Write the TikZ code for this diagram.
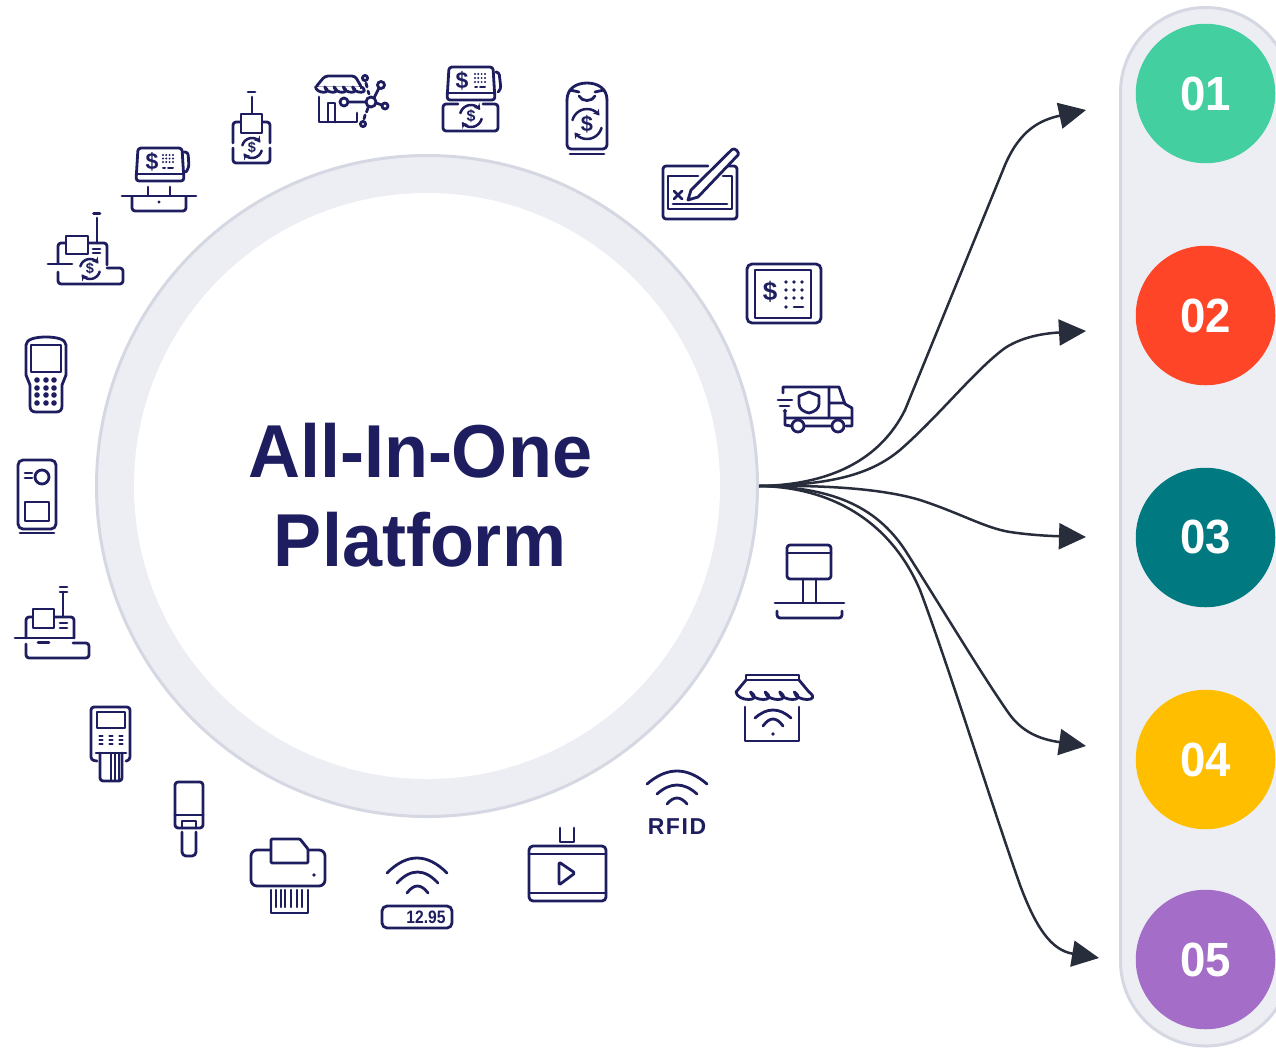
\documentclass[tikz,border=0pt]{standalone}
\usepackage{fontspec}
\usepackage{graphicx}
\setmainfont{Liberation Sans}
\usetikzlibrary{arrows.meta}
\definecolor{iconc}{HTML}{1D1D5F}
\definecolor{ringfill}{HTML}{EDEEF3}
\definecolor{ringline}{HTML}{D5D7E2}
\definecolor{flowc}{HTML}{282D3C}
\definecolor{cA}{HTML}{43CFA0}
\definecolor{cB}{HTML}{FF4527}
\definecolor{cC}{HTML}{007A80}
\definecolor{cD}{HTML}{FFBE00}
\definecolor{cE}{HTML}{A36DC8}
\tikzset{
  ic/.style={draw=iconc,line width=2.8pt,line cap=round,line join=round},
  icr/.style={ic,rounded corners=3pt},
  dotf/.style={fill=iconc,draw=none},
  numdisc/.style={circle,minimum size=139.5pt,inner sep=0pt,outer sep=0pt,text=white,font=\fontsize{48}{50}\selectfont\bfseries},
  flow/.style={draw=flowc,line width=2.5pt,-{Triangle[length=27pt,width=26pt]}},
  titlet/.style={text=iconc,inner sep=0pt,font=\fontsize{75}{80}\selectfont\bfseries},
  dollar/.style={text=iconc,inner sep=0pt,font=\bfseries}
}
% dollar inside two chasing arcs
\newcommand\cyc[4]{%
  \draw[ic,line width=2.5pt,-{Stealth[length=5.5pt,width=7.5pt]}] plot[domain=195:325,samples=14,smooth] ({#2+#4*cos(\x)},{#3+#4*sin(\x)});
  \draw[ic,line width=2.5pt,-{Stealth[length=5.5pt,width=7.5pt]}] plot[domain=15:145,samples=14,smooth] ({#2+#4*cos(\x)},{#3+#4*sin(\x)});
  \pgfmathsetmacro\fsz{#4*1.45}%
  \node[dollar,font=\fontsize{\fsz}{\fsz}\selectfont\bfseries] (#1) at (#2,#3) {\$};}
% dot grid
\newcommand\dotgrid[3]{%
  \foreach \gx in {#1} \foreach \gy in {#2} \fill[dotf] (\gx,\gy) circle[radius=#3];}
% wifi-like arc: x1,x2,y at the ends,y at the apex
\newcommand\wf[4]{%
  \draw[ic] (#1,#3) .. controls ({#1+(#2-#1)/3},{#3-4/3*(#3-#4)}) and ({#2-(#2-#1)/3},{#3-4/3*(#3-#4)}) .. (#2,#3);}
% awning scallops: x0,y,step,count,depth
\newcommand\scal[5]{%
  \foreach \si in {1,...,#4} {%
    \pgfmathsetmacro\sx{#1+(\si-1)*#3}%
    \draw[ic] (\sx,#2) .. controls +(1,#5) and +(#3-1,#5) .. +(#3,0);}}
\begin{document}
\begin{tikzpicture}[x=1pt,y=-1pt]
\useasboundingbox (0,0) rectangle (1276,1047);
\fill[white] (0,0) rectangle (1276,1047);
\begin{scope}
\clip (0,0) rectangle (1276,1047);
% side rail
\draw[fill=ringfill,draw=ringline,line width=3pt,rounded corners=85pt] (1120.5,7.5) rectangle (1291,1046);
\end{scope}
% hub ring
\node[circle,fill=ringfill,draw=ringline,line width=3pt,minimum size=661pt,inner sep=0pt,outer sep=1.5pt] (hub) at (427,486) {};
\node[circle,fill=white,minimum size=586pt,inner sep=0pt] (hubin) at (427,486) {};
\node[titlet] (title1) at (420,451) {\scalebox{.96}[1]{All-In-One}};
\node[titlet] (title2) at (420,540) {\scalebox{.96}[1]{Platform}};
% numbered discs
\node[numdisc,fill=cA] (n1) at (1205.5,93.5) {\scalebox{.95}[1]{01}};
\node[numdisc,fill=cB] (n2) at (1205.5,315.5) {\scalebox{.95}[1]{02}};
\node[numdisc,fill=cC] (n3) at (1205.5,537.5) {\scalebox{.95}[1]{03}};
\node[numdisc,fill=cD] (n4) at (1205.5,759.5) {\scalebox{.95}[1]{04}};
\node[numdisc,fill=cE] (n5) at (1205.5,959.5) {\scalebox{.95}[1]{05}};
% connectors
\coordinate (t1) at (1086,110);
\coordinate (t2) at (1086,331);
\coordinate (t3) at (1086,537);
\coordinate (t4) at (1086,746);
\coordinate (t5) at (1099,958);
\draw[flow] (hub.east) .. controls (830,485) and (880,460) .. (905,410) -- (1005,165) .. controls (1020,130) and (1040,120) .. (t1);
\draw[flow] (hub.east) .. controls (830,485) and (870,475) .. (900,450) .. controls (940,415) and (975,370) .. (1005,348) .. controls (1025,335) and (1050,333) .. (t2);
\draw[flow] (hub.east) .. controls (820,485) and (880,488) .. (920,500) .. controls (960,513) and (985,528) .. (1010,532) .. controls (1030,535) and (1050,536) .. (t3);
\draw[flow] (hub.east) .. controls (830,487) and (875,505) .. (905,550) .. controls (940,605) and (985,680) .. (1010,715) .. controls (1025,735) and (1045,740) .. (t4);
\draw[flow] (hub.east) .. controls (830,487) and (890,520) .. (920,590) .. controls (950,670) and (990,800) .. (1020,885) .. controls (1035,925) and (1050,950) .. (t5);

% --- icon: cash register with cycle
\draw[ic] (93.5,213.5) -- (100,213.5) (97,218) -- (97,243);
\draw[icr] (58,263) -- (58,243) -- (107,243) -- (107,265);
\draw[ic,fill=white] (66,236) rectangle (88,254);
\draw[ic] (48,264) -- (72,264) (93,249) -- (100,249) (93,253) -- (100,253);
\draw[icr] (58,272) -- (58,284) -- (123,284) -- (123,268) -- (107,268);
\cyc{c1}{90}{269}{10}
% --- icon: POS on a counter
\draw[icr] (138,148) -- (182,148) -- (184,181) -- (136,181) -- cycle;
\draw[ic] (136,174) -- (184,174);
\node[dollar,font=\fontsize{23}{24}\selectfont\bfseries] (d1) at (152,162) {\$};
\dotgrid{163,166.3,169.6,173}{155,158.5,162}{1.1}
\draw[ic,line width=2pt] (163,168) -- (165,168) (168,168) -- (173,168);
\draw[icr] (184,152) -- (188,152) -- (189,167) -- (186,172);
\draw[ic] (148,187) -- (148,195) (170,187) -- (170,195) (122,196) -- (196,196);
\draw[icr] (132,197) -- (132,211) -- (186,211) -- (186,197);
\fill[dotf] (159,202) circle[radius=1.6];
% --- icon: handheld with cycle
\draw[ic] (248,92) -- (255,92) (252,97) -- (252,113);
\draw[icr] (241,122) -- (233,122) -- (233,143);
\draw[icr] (262,122) -- (270,122) -- (270,143);
\draw[icr] (233,148) -- (233,163) -- (270,163) -- (270,148);
\draw[ic,fill=white] (241,114) rectangle (262,133);
\cyc{c2}{252}{148}{10}
% --- icon: store network
\draw[icr] (325,76) -- (355,76) -- (362,88) -- (315,88) -- cycle;
\draw[draw=none,fill=white] (317,86.6) rectangle (360,90);
\scal{315.5}{87}{9.3}{5}{7}
\draw[ic] (319,97) -- (319,122) -- (357,122) -- (357,113);
\draw[ic] (328,122) -- (328,103) -- (335,103) -- (335,122);
\draw[ic] (371,102) circle[radius=5] (344,102) circle[radius=4] (381,85) circle[radius=3.5] (385,106) circle[radius=3] (365,78) circle[radius=2.6] (363,124) circle[radius=2.6];
\draw[ic] (348,102) -- (366,102) (374,98) -- (379,88) (376,103) -- (382,105) (366,83) -- (367,87) (368,91) -- (369,94) (368,108) -- (366.5,112) (365,115) -- (364,119);
% --- icon: POS with cycle drawer
\draw[icr] (449,67) -- (493,67) -- (495,100) -- (447,100) -- cycle;
\draw[ic] (447,93) -- (495,93);
\node[dollar,font=\fontsize{23}{24}\selectfont\bfseries] (d2) at (462,81) {\$};
\dotgrid{475,478.3,481.6,485}{74,78,82}{1.1}
\draw[ic,line width=2pt] (475,87) -- (477,87) (480,87) -- (485,87);
\draw[icr] (497,72) -- (499,72) -- (501,89) -- (498,92);
\draw[icr] (458,104) -- (443,104) -- (443,131) -- (498,131) -- (498,104) -- (483,104);
\cyc{c3}{471}{116}{11}
% --- icon: phone with cycle
\draw[ic,rounded corners=4pt] (567,100) -- (567,149) -- (607,149) -- (607,100);
\draw[ic] (567,100) .. controls (567,88) and (577,83) .. (587,83) .. controls (597,83) and (607,88) .. (607,100);
\draw[ic] (570,90) -- (579,92) (595,92) -- (604,90);
\draw[ic] (579,96) .. controls (582,102) and (592,102) .. (595,96);
\draw[ic] (570,154) -- (604,154);
\cyc{c4}{587}{124}{15}
% --- icon: check with pen
\draw[icr] (708,166) -- (663,166) -- (663,219) -- (737,219) -- (737,166) -- (728,166);
\draw[ic] (698,176) -- (668,176) -- (668,209) -- (732,209) -- (732,176) -- (723,176);
\draw[ic] (673,204) -- (727,204);
\draw[ic] (674,191) -- (682,199) (682,191) -- (674,199);
\draw[ic,fill=white] (691,190) -- (732,149.5) .. controls (735,147) and (740,153) .. (738,155) -- (698,197) -- (688,200) -- cycle;
% --- icon: tablet POS
\draw[ic,rounded corners=5pt] (747,264) rectangle (821,323);
\draw[ic] (755,270) rectangle (811,318);
\node[dollar,font=\fontsize{26}{27}\selectfont\bfseries] (d3) at (770,292) {\$};
\dotgrid{786,794,802}{282,290,298}{1.8}
\fill[dotf] (786,307) circle[radius=1.8];
\draw[ic] (794,307) -- (803,307);
% --- icon: security van
\draw[ic] (783,393) -- (783,387) -- (839,387) -- (845,404) -- (852,408) -- (852,426) -- (846,426);
\draw[ic] (829,387) -- (829,416) (829,403) -- (845,403) (787,418) -- (852,418) (785,410) -- (785,425) -- (791,426) (805,426) -- (831,426);
\draw[ic] (778,400) -- (792,400) (780,406) -- (789,406) (784,411) -- (786,411);
\draw[ic,fill=white] (798,426) circle[radius=6] (838,426) circle[radius=6];
\draw[ic] (809,392) -- (819,396) -- (819,404) .. controls (819,409) and (814,412) .. (809,413) .. controls (804,412) and (799,409) .. (799,404) -- (799,396) -- cycle;
% --- icon: kiosk
\draw[icr] (787,545) rectangle (831,579);
\draw[ic] (787,553) -- (831,553) (803,579) -- (803,602) (816,579) -- (816,602) (775,603) -- (844,603);
\draw[icr] (777,611) -- (777,618) -- (842,618) -- (842,611);
% --- icon: store with wifi
\draw[ic] (746,680) -- (746,675) -- (799,675) -- (799,680) -- cycle;
\draw[ic] (746,680) -- (736,692) (799,680) -- (809,692);
\scal{736}{692}{14.6}{5}{10}
\draw[ic] (745,707) -- (745,741) -- (799,741) -- (799,707);
\wf{755}{791}{718}{710}
\wf{763}{783}{726}{719}
\fill[dotf] (773,734) circle[radius=1.8];
% --- icon: RFID
\wf{647}{707}{784}{771}
\wf{657}{697}{794}{785}
\wf{667}{687}{804}{798}
\node[text=iconc,inner sep=0pt,font=\fontsize{23}{25}\selectfont\bfseries\addfontfeature{LetterSpace=7}] (rfid) at (677,827) {RFID};
% --- icon: video
\draw[ic,rounded corners=4pt] (529,846) rectangle (606,901);
\draw[ic] (529,854) -- (606,854) (529,893) -- (606,893);
\draw[ic] (560,828) -- (560,842) -- (574,842) -- (574,828);
\draw[ic,rounded corners=1.5pt] (559,862) -- (575,873) -- (559,885) -- cycle;
% --- icon: price display with wifi
\wf{387}{447}{873}{858}
\wf{397}{438}{883}{872}
\wf{407}{428}{893}{886}
\draw[ic,rounded corners=5pt] (382,906) rectangle (452,928);
\node[text=iconc,inner sep=0pt,font=\fontsize{18}{20}\selectfont\bfseries] (price) at (426,917) {\scalebox{.87}[1]{12.95}};
% --- icon: barcode printer
\draw[ic,rounded corners=6pt] (251,850) rectangle (325,886);
\draw[ic,fill=white,rounded corners=1pt] (271,863) -- (271,839) -- (300,839) -- (308,849) -- (308,863) -- cycle;
\fill[dotf] (314,875) circle[radius=1.8];
\draw[ic,line width=2.4pt] (271,890) -- (271,913) -- (308,913) -- (308,890);
\foreach \bx in {276,281,285,291,297,302} \draw[ic,line width=2.4pt] (\bx,890) -- (\bx,907);
% --- icon: handheld scanner
\draw[icr] (175,782) rectangle (203,828);
\draw[ic] (175,815) -- (203,815);
\draw[ic] (182,828) -- (182,821) -- (196,821) -- (196,828);
\draw[ic,rounded corners=4pt] (182,832) -- (182,856) -- (196,856) -- (196,832);
% --- icon: card terminal
\draw[icr] (97,761) -- (91,760) -- (91,707) -- (130,707) -- (130,760) -- (126,761);
\draw[ic] (97,712) rectangle (125,728);
\foreach \ky in {736,740,744} \foreach \kx in {101,111,121} \draw[ic,line width=2.2pt] ({\kx-1.6},\ky) -- ({\kx+1.6},\ky);
\draw[ic] (96,753) -- (126,753);
\draw[ic,rounded corners=3pt] (100,753) -- (100,781) -- (122,781) -- (122,753);
\draw[ic,line width=2pt] (111,753) -- (111,780) (115,753) -- (115,780) (119,753) -- (119,780);
% --- icon: cash register
\draw[ic] (60,587) -- (67,587) (60,592) -- (67,592) (63,592) -- (63,616);
\draw[icr] (26,638) -- (26,617) -- (74,617) -- (74,638);
\draw[ic,fill=white] (33,609) rectangle (54,628);
\draw[ic] (60,623) -- (67,623) (60,628) -- (67,628) (15,638) -- (74,638) (38,642.5) -- (49,642.5);
\draw[icr] (26,644) -- (26,658) -- (89,658) -- (89,643) -- (73,643);
% --- icon: tall terminal
\draw[ic,rounded corners=5pt] (18,460) rectangle (56,529);
\draw[ic] (20,533) -- (54,533) (25,473) -- (32,473) (25,478) -- (32,478);
\draw[ic] (42,477) circle[radius=7];
\draw[ic] (25,502) rectangle (49,521);
% --- icon: handheld keypad
\draw[ic] (26,375) -- (26,345) .. controls (26,339) and (36,337) .. (46,337) .. controls (56,337) and (66,339) .. (66,345) -- (66,375) -- (62,385) -- (62,406) .. controls (62,410) and (60,412) .. (56,412) -- (36,412) .. controls (32,412) and (30,410) .. (30,406) -- (30,385) -- cycle;
\draw[ic] (31,345) rectangle (61,372);
\dotgrid{37,46,54}{380,388,395,403}{2.8}
\end{tikzpicture}
\end{document}
